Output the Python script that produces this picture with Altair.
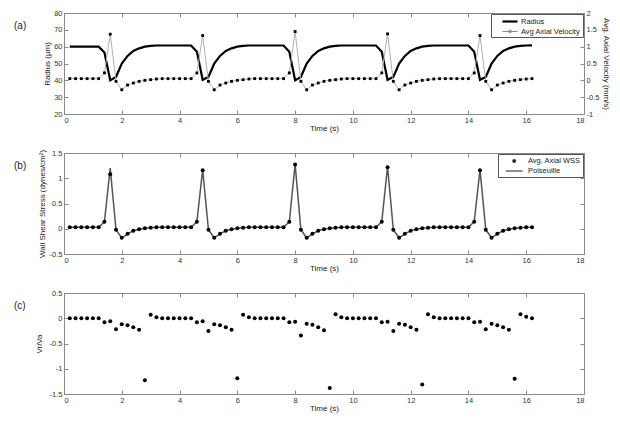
import altair as alt
import pandas as pd

# ---------------- data (sampled every 0.2 s) ----------------
time = [0.2, 0.4, 0.6, 0.8, 1.0, 1.2, 1.4, 1.6, 1.8, 2.0,
        2.2, 2.4, 2.6, 2.8, 3.0, 3.2, 3.4, 3.6, 3.8, 4.0,
        4.2, 4.4, 4.6, 4.8, 5.0, 5.2, 5.4, 5.6, 5.8, 6.0,
        6.2, 6.4, 6.6, 6.8, 7.0, 7.2, 7.4, 7.6, 7.8, 8.0,
        8.2, 8.4, 8.6, 8.8, 9.0, 9.2, 9.4, 9.6, 9.8, 10.0,
        10.2, 10.4, 10.6, 10.8, 11.0, 11.2, 11.4, 11.6, 11.8, 12.0,
        12.2, 12.4, 12.6, 12.8, 13.0, 13.2, 13.4, 13.6, 13.8, 14.0,
        14.2, 14.4, 14.6, 14.8, 15.0, 15.2, 15.4, 15.6, 15.8, 16.0,
        16.2]

radius = [60, 60, 60, 60, 60, 60, 56.5, 40, 42, 50,
          54.5, 57.5, 59, 60, 60.5, 60.7, 60.7, 60.7, 60.7, 60.7,
          60.7, 60.7, 57, 40.3, 42, 50, 54.5, 57.5, 59, 60,
          60.5, 60.7, 60.7, 60.7, 60.7, 60.7, 60.7, 60.7, 57, 40,
          42, 50, 54.5, 57.5, 59, 60, 60.5, 60.7, 60.7, 60.7,
          60.7, 60.7, 60.7, 60.7, 57, 40.3, 42, 50, 54.5, 57.5,
          59, 60, 60.5, 60.7, 60.7, 60.7, 60.7, 60.7, 60.7, 60.7,
          57, 40.3, 42, 50, 54.5, 57.5, 59, 60, 60.5, 60.7,
          60.8]

velocity = [0.05, 0.05, 0.05, 0.05, 0.05, 0.05, 0.22, 1.37, -0.03, -0.28,
            -0.14, -0.08, -0.03, 0.0, 0.02, 0.04, 0.05, 0.05, 0.05, 0.05,
            0.05, 0.05, 0.22, 1.33, -0.03, -0.28, -0.14, -0.08, -0.03, 0.0,
            0.02, 0.04, 0.05, 0.05, 0.05, 0.05, 0.05, 0.05, 0.22, 1.45,
            -0.03, -0.28, -0.14, -0.08, -0.03, 0.0, 0.02, 0.04, 0.05, 0.05,
            0.05, 0.05, 0.05, 0.05, 0.22, 1.38, -0.03, -0.28, -0.14, -0.08,
            -0.03, 0.0, 0.02, 0.04, 0.05, 0.05, 0.05, 0.05, 0.05, 0.05,
            0.22, 1.33, -0.03, -0.28, -0.14, -0.08, -0.03, 0.0, 0.02, 0.04,
            0.05]

wss = [0.03, 0.03, 0.03, 0.03, 0.03, 0.03, 0.14, 1.08, -0.02, -0.18,
       -0.1, -0.04, -0.01, 0.01, 0.02, 0.03, 0.03, 0.03, 0.03, 0.03,
       0.03, 0.03, 0.14, 1.16, -0.02, -0.18, -0.1, -0.04, -0.01, 0.01,
       0.02, 0.03, 0.03, 0.03, 0.03, 0.03, 0.03, 0.03, 0.14, 1.27,
       -0.02, -0.18, -0.1, -0.04, -0.01, 0.01, 0.02, 0.03, 0.03, 0.03,
       0.03, 0.03, 0.03, 0.03, 0.14, 1.22, -0.02, -0.18, -0.1, -0.04,
       -0.01, 0.01, 0.02, 0.03, 0.03, 0.03, 0.03, 0.03, 0.03, 0.03,
       0.14, 1.16, -0.02, -0.18, -0.1, -0.04, -0.01, 0.01, 0.02, 0.03,
       0.03]

poiseuille = [0.03, 0.03, 0.03, 0.03, 0.03, 0.03, 0.14, 1.2, -0.02, -0.18,
              -0.1, -0.04, -0.01, 0.01, 0.02, 0.03, 0.03, 0.03, 0.03, 0.03,
              0.03, 0.03, 0.14, 1.17, -0.02, -0.18, -0.1, -0.04, -0.01, 0.01,
              0.02, 0.03, 0.03, 0.03, 0.03, 0.03, 0.03, 0.03, 0.14, 1.28,
              -0.02, -0.18, -0.1, -0.04, -0.01, 0.01, 0.02, 0.03, 0.03, 0.03,
              0.03, 0.03, 0.03, 0.03, 0.14, 1.23, -0.02, -0.18, -0.1, -0.04,
              -0.01, 0.01, 0.02, 0.03, 0.03, 0.03, 0.03, 0.03, 0.03, 0.03,
              0.14, 1.17, -0.02, -0.18, -0.1, -0.04, -0.01, 0.01, 0.02, 0.03,
              0.03]

vr_va = [0, 0, 0, 0, 0, 0, -0.08, -0.06, -0.22, -0.12,
         -0.14, -0.18, -0.23, -1.23, 0.07, 0.02, 0, 0, 0, 0,
         0, 0, -0.08, -0.06, -0.25, -0.12, -0.14, -0.18, -0.23, -1.19,
         0.07, 0.02, 0, 0, 0, 0, 0, 0, -0.08, -0.07,
         -0.34, -0.11, -0.13, -0.18, -0.24, -1.38, 0.08, 0.02, 0, 0,
         0, 0, 0, 0, -0.08, -0.07, -0.25, -0.11, -0.13, -0.18,
         -0.23, -1.31, 0.08, 0.02, 0, 0, 0, 0, 0, 0,
         -0.08, -0.07, -0.22, -0.11, -0.14, -0.18, -0.23, -1.2, 0.08, 0.03,
         0]

series_a = ["Radius", "Avg Axial Velocity"]
series_b = ["Avg. Axial WSS", "Poiseuille"]
x_ticks = [0, 2, 4, 6, 8, 10, 12, 14, 16, 18]
radius_ticks = [20, 30, 40, 50, 60, 70, 80]
velocity_ticks = [-1, -0.5, 0, 0.5, 1, 1.5, 2]
wss_ticks = [-0.5, 0, 0.5, 1, 1.5]
vr_ticks = [-1.5, -1, -0.5, 0, 0.5]

# ---------------- tables ----------------
df_a = pd.concat([
    pd.DataFrame({"time": time, "value": radius, "series": series_a[0]}),
    pd.DataFrame({"time": time, "value": velocity, "series": series_a[1]}),
])
df_b = pd.concat([
    pd.DataFrame({"time": time, "value": wss, "series": series_b[0]}),
    pd.DataFrame({"time": time, "value": poiseuille, "series": series_b[1]}),
])
df_c = pd.DataFrame({"time": time, "value": vr_va})

FONT = "Liberation Sans"
W, H = 520, 101
LABEL = "'' + datum.value"
XSCALE = alt.Scale(domain=[0, 18], nice=False, zero=False)

# legend glyphs (unit-box paths, scaled by sqrt(symbolSize)/2 = 4 px per unit)
SYM_RADIUS = "M1,0L4.75,0"
SYM_VEL = "M1,0L4.75,0M2.6,-0.3L3.15,-0.3L3.15,0.3L2.6,0.3Z"
SYM_DOT = "M1.95,0A0.35,0.35,0,1,0,2.65,0A0.35,0.35,0,1,0,1.95,0Z"
SYM_LINE = "M0.2,0L4.4,0"


def x_bottom():
    return alt.X("time:Q", scale=XSCALE,
                 axis=alt.Axis(values=x_ticks, title="Time (s)", offset=-4,
                               labelPadding=2, titlePadding=1))


def x_top():
    return alt.X("time:Q", scale=XSCALE,
                 axis=alt.Axis(values=x_ticks, title=None, orient="top", offset=-4,
                               labels=False))


def x_plain():
    return alt.X("time:Q", scale=XSCALE, axis=None)


def y_axis(title, values, orient="left", tpad=2):
    return alt.Axis(title=title, values=values, orient=orient, offset=-4,
                    labelPadding=2, titlePadding=tpad, labelExpr=LABEL)


def y_right_ticks(values):
    return alt.Axis(title=None, values=values, orient="right", offset=-4, labels=False)


def panel_title(txt):
    return alt.TitleParams(txt, anchor="start", frame="group", dx=-50, dy=22,
                           offset=0, baseline="top", fontSize=10,
                           fontWeight="normal", font=FONT, color="#222")


def empty(chart):
    return chart.transform_filter("false")


def legend(label_offset):
    return alt.Legend(title=None, orient="top-right", offset=1, strokeColor="#555",
                      fillColor="white", padding=2, rowPadding=1, symbolSize=64,
                      symbolStrokeColor="#444", symbolStrokeWidth=1.2,
                      labelFontSize=7.5, labelFont=FONT, labelColor="#222",
                      labelOffset=label_offset)


# ---------------- panel (a) ----------------
base_a = alt.Chart(df_a)
radius_line = base_a.transform_filter(alt.datum.series == series_a[0]).mark_line(
    color="#000000", strokeWidth=2.2).encode(
    x=x_bottom(),
    y=alt.Y("value:Q", scale=alt.Scale(domain=[20, 80], nice=False),
            axis=y_axis("Radius (\u00b5m)", radius_ticks, tpad=2)))
vel_y = alt.Y("value:Q", scale=alt.Scale(domain=[-1, 2], nice=False),
              axis=y_axis("Avg. Axial Velocity (mm/s)", velocity_ticks,
                          orient="right", tpad=3))
vel_line = base_a.transform_filter(alt.datum.series == series_a[1]).mark_line(
    color="#b0b0b0", strokeWidth=1).encode(x=x_plain(), y=vel_y)
vel_pts = base_a.transform_filter(alt.datum.series == series_a[1]).mark_square(
    size=8, color="#000000", opacity=1).encode(x=x_plain(), y=vel_y)

leg_a = legend(17)
legend_a = empty(base_a).mark_point(filled=False, opacity=1).encode(
    color=alt.Color("series:N", scale=alt.Scale(domain=series_a, range=["#000000", "#8a8a8a"]),
                    legend=leg_a),
    shape=alt.Shape("series:N", scale=alt.Scale(domain=series_a, range=[SYM_RADIUS, SYM_VEL]),
                    legend=leg_a),
    strokeWidth=alt.StrokeWidth("series:N", scale=alt.Scale(domain=series_a, range=[2.2, 1.0]),
                                legend=leg_a))
ticks_a = empty(base_a).mark_point().encode(x=x_top())

panel_a = alt.layer(
    radius_line, alt.layer(vel_line, vel_pts), legend_a, ticks_a
).resolve_scale(y="independent").resolve_axis(x="independent").properties(
    width=W, height=H, title=panel_title("(a)"))

# ---------------- panel (b) ----------------
base_b = alt.Chart(df_b)
wss_scale = alt.Scale(domain=[-0.5, 1.5], nice=False)
pois_line = base_b.transform_filter(alt.datum.series == series_b[1]).mark_line(
    color="#555555", strokeWidth=1.5).encode(
    x=x_bottom(),
    y=alt.Y("value:Q", scale=wss_scale,
            axis=y_axis("Wall Shear Stress (dynes/cm\u00b2)", wss_ticks, tpad=3)))
wss_pts = base_b.transform_filter(alt.datum.series == series_b[0]).mark_circle(
    size=16, color="#000000", opacity=1).encode(
    x=x_plain(), y=alt.Y("value:Q", scale=wss_scale, axis=None))
leg_b = legend(18)
legend_b = empty(base_b).mark_point(filled=True, opacity=1).encode(
    color=alt.Color("series:N", scale=alt.Scale(domain=series_b, range=["#000000", "#555555"]),
                    legend=leg_b),
    shape=alt.Shape("series:N", scale=alt.Scale(domain=series_b, range=[SYM_DOT, SYM_LINE]),
                    legend=leg_b))
ticks_b = empty(base_b).mark_point().encode(
    x=x_top(), y=alt.Y("value:Q", scale=wss_scale, axis=y_right_ticks(wss_ticks)))
panel_b = alt.layer(pois_line, wss_pts, legend_b, ticks_b).resolve_axis(
    x="independent", y="independent").properties(width=W, height=H, title=panel_title("(b)"))

# ---------------- panel (c) ----------------
base_c = alt.Chart(df_c)
vr_scale = alt.Scale(domain=[-1.5, 0.5], nice=False)
vr_pts = base_c.mark_circle(size=16, color="#000000", opacity=1).encode(
    x=x_bottom(),
    y=alt.Y("value:Q", scale=vr_scale, axis=y_axis("Vr/Va", vr_ticks, tpad=6)))
ticks_c = empty(base_c).mark_point().encode(
    x=x_top(), y=alt.Y("value:Q", scale=vr_scale, axis=y_right_ticks(vr_ticks)))
panel_c = alt.layer(vr_pts, ticks_c).resolve_axis(x="independent", y="independent").properties(
    width=W, height=H, title=panel_title("(c)"))

chart = alt.vconcat(panel_a, panel_b, panel_c, spacing=39, bounds="flush").resolve_scale(
    color="independent", shape="independent", strokeWidth="independent"
).resolve_legend(
    color="independent", shape="independent", strokeWidth="independent"
).properties(
    padding={"left": 5, "top": 0, "right": 0, "bottom": 0}
).configure_view(stroke="#8a8a8a", strokeWidth=1).configure_axis(
    grid=False, domain=False, labelFont=FONT, titleFont=FONT, labelFontSize=7.5,
    titleFontSize=8, labelColor="#333", titleColor="#222", tickColor="#8a8a8a",
    tickSize=4, titleFontWeight="normal")

chart.save("out.html", embed_options={"renderer": "svg", "actions": False})
